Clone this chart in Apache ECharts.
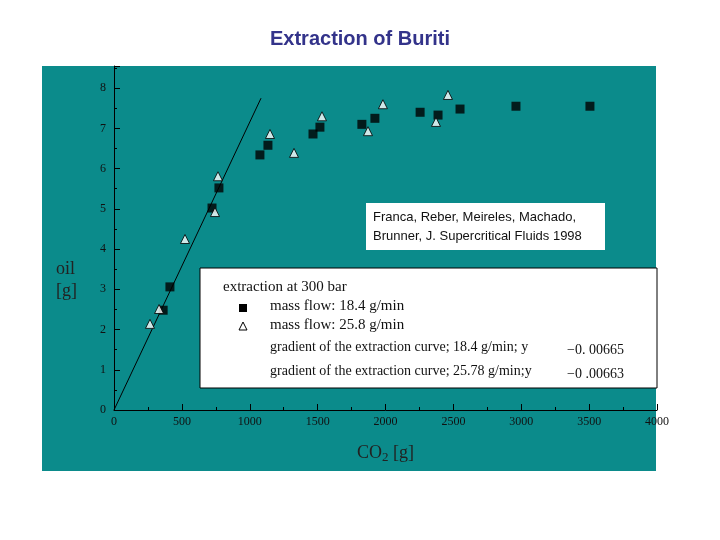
<!DOCTYPE html>
<html><head><meta charset="utf-8">
<script src="https://cdn.jsdelivr.net/npm/echarts@6/dist/echarts.min.js"></script>
<style>html,body{margin:0;padding:0;background:#fff}#c{width:720px;height:540px}</style>
</head><body><div id="c"></div>
<script>
const flow184 = [[362,2.48],[412,3.06],[722,5.02],[773,5.52],[1075,6.34],[1134,6.58],[1466,6.86],[1517,7.03],[1826,7.1],[1922,7.25],[2255,7.4],[2387,7.33],[2549,7.48],[2961,7.55],[3506,7.55]];
const flow258 = [[265,2.14],[332,2.51],[523,4.25],[744,4.92],[766,5.81],[1149,6.86],[1326,6.39],[1532,7.3],[1871,6.93],[1981,7.6],[2372,7.16],[2460,7.83]];
const gradientLine = [[0,0],[1083,7.75]];
const xTicks = [0,500,1000,1500,2000,2500,3000,3500,4000];
const serif = 'Liberation Serif';
const chart = echarts.init(document.getElementById('c'));
chart.setOption({
  animation:false,
  backgroundColor:'#fff',
  title:{text:'Extraction of Buriti',left:'center',top:24,textStyle:{fontFamily:'Liberation Sans',fontWeight:'bold',fontSize:20,color:'#33338a'}},
  graphic:[
    {type:'rect',z:-10,shape:{x:42,y:66,width:614,height:405},style:{fill:'#0b8b8b'}},
    {type:'rect',z:10,shape:{x:366,y:203,width:239,height:47},style:{fill:'#fff'}},
    {type:'text',z:11,left:373,top:208,style:{text:'Franca, Reber, Meireles, Machado,\nBrunner, J. Supercritical Fluids 1998',font:'13px Liberation Sans',fill:'#111',lineHeight:19}},
    {type:'rect',z:10,shape:{x:200,y:268,width:457,height:120},style:{fill:'#fff',stroke:'#000',lineWidth:1}},
    {type:'text',z:11,left:223,top:280,style:{text:'extraction at 300 bar',font:'15px Liberation Serif',fill:'#111'}},
    {type:'rect',z:11,shape:{x:239,y:304,width:8,height:8},style:{fill:'#000'}},
    {type:'polygon',z:11,shape:{points:[[243,322],[239,330],[247,330]]},style:{fill:'#fff',stroke:'#000',lineWidth:1}},
    {type:'text',z:11,left:270,top:299,style:{text:'mass flow: 18.4 g/min',font:'15px Liberation Serif',fill:'#111'}},
    {type:'text',z:11,left:270,top:318,style:{text:'mass flow: 25.8 g/min',font:'15px Liberation Serif',fill:'#111'}},
    {type:'text',z:11,left:270,top:340,style:{text:'gradient of the extraction curve; 18.4 g/min; y',font:'14px Liberation Serif',fill:'#111'}},
    {type:'text',z:11,left:567,top:343,style:{text:'−0. 00665',font:'14px Liberation Serif',fill:'#111'}},
    {type:'text',z:11,left:270,top:364,style:{text:'gradient of the extraction curve; 25.78 g/min;y',font:'14px Liberation Serif',fill:'#111'}},
    {type:'text',z:11,left:567,top:367,style:{text:'−0 .00663',font:'14px Liberation Serif',fill:'#111'}},
    {type:'text',z:11,left:56,top:258,style:{text:'oil\n[g]',font:'18px Liberation Serif',fill:'#222',lineHeight:22}},
    {type:'text',z:11,left:357,top:444,style:{rich:{a:{fontFamily:serif,fontSize:18,fill:'#222'},s:{fontFamily:serif,fontSize:13,fill:'#222',padding:[10,0,0,0]}},text:'{a|CO}{s|2}{a| [g]}'}}
  ],
  grid:{left:114,right:63,top:66,bottom:130},
  xAxis:{type:'value',min:0,max:4000,interval:500,
    axisLine:{lineStyle:{color:'#000'}},axisTick:{inside:true,length:6,lineStyle:{color:'#000'}},
    minorTick:{show:true,splitNumber:2,length:3,lineStyle:{color:'#000'}},
    splitLine:{show:false},
    axisLabel:{fontFamily:serif,fontSize:12,color:'#111',margin:6,formatter:v=>xTicks.includes(v)?String(v):''}},
  yAxis:{type:'value',min:0,max:8.55,interval:1,
    axisLine:{show:true,lineStyle:{color:'#000'}},axisTick:{show:true,inside:true,length:6,lineStyle:{color:'#000'}},
    minorTick:{show:true,splitNumber:2,length:3,lineStyle:{color:'#000'}},
    splitLine:{show:false},
    axisLabel:{fontFamily:serif,fontSize:12,color:'#111',showMaxLabel:false,formatter:v=>Number.isInteger(v)?String(v):''}},
  series:[
    {type:'line',data:gradientLine,symbol:'none',lineStyle:{color:'#000',width:1},z:3},
    {type:'scatter',data:flow184,symbol:'rect',symbolSize:9,itemStyle:{color:'#000'},z:4},
    {type:'scatter',data:flow258,symbol:'triangle',symbolSize:9,itemStyle:{color:'#fff',borderColor:'#000',borderWidth:1},z:4}
  ]
});
</script></body></html>
